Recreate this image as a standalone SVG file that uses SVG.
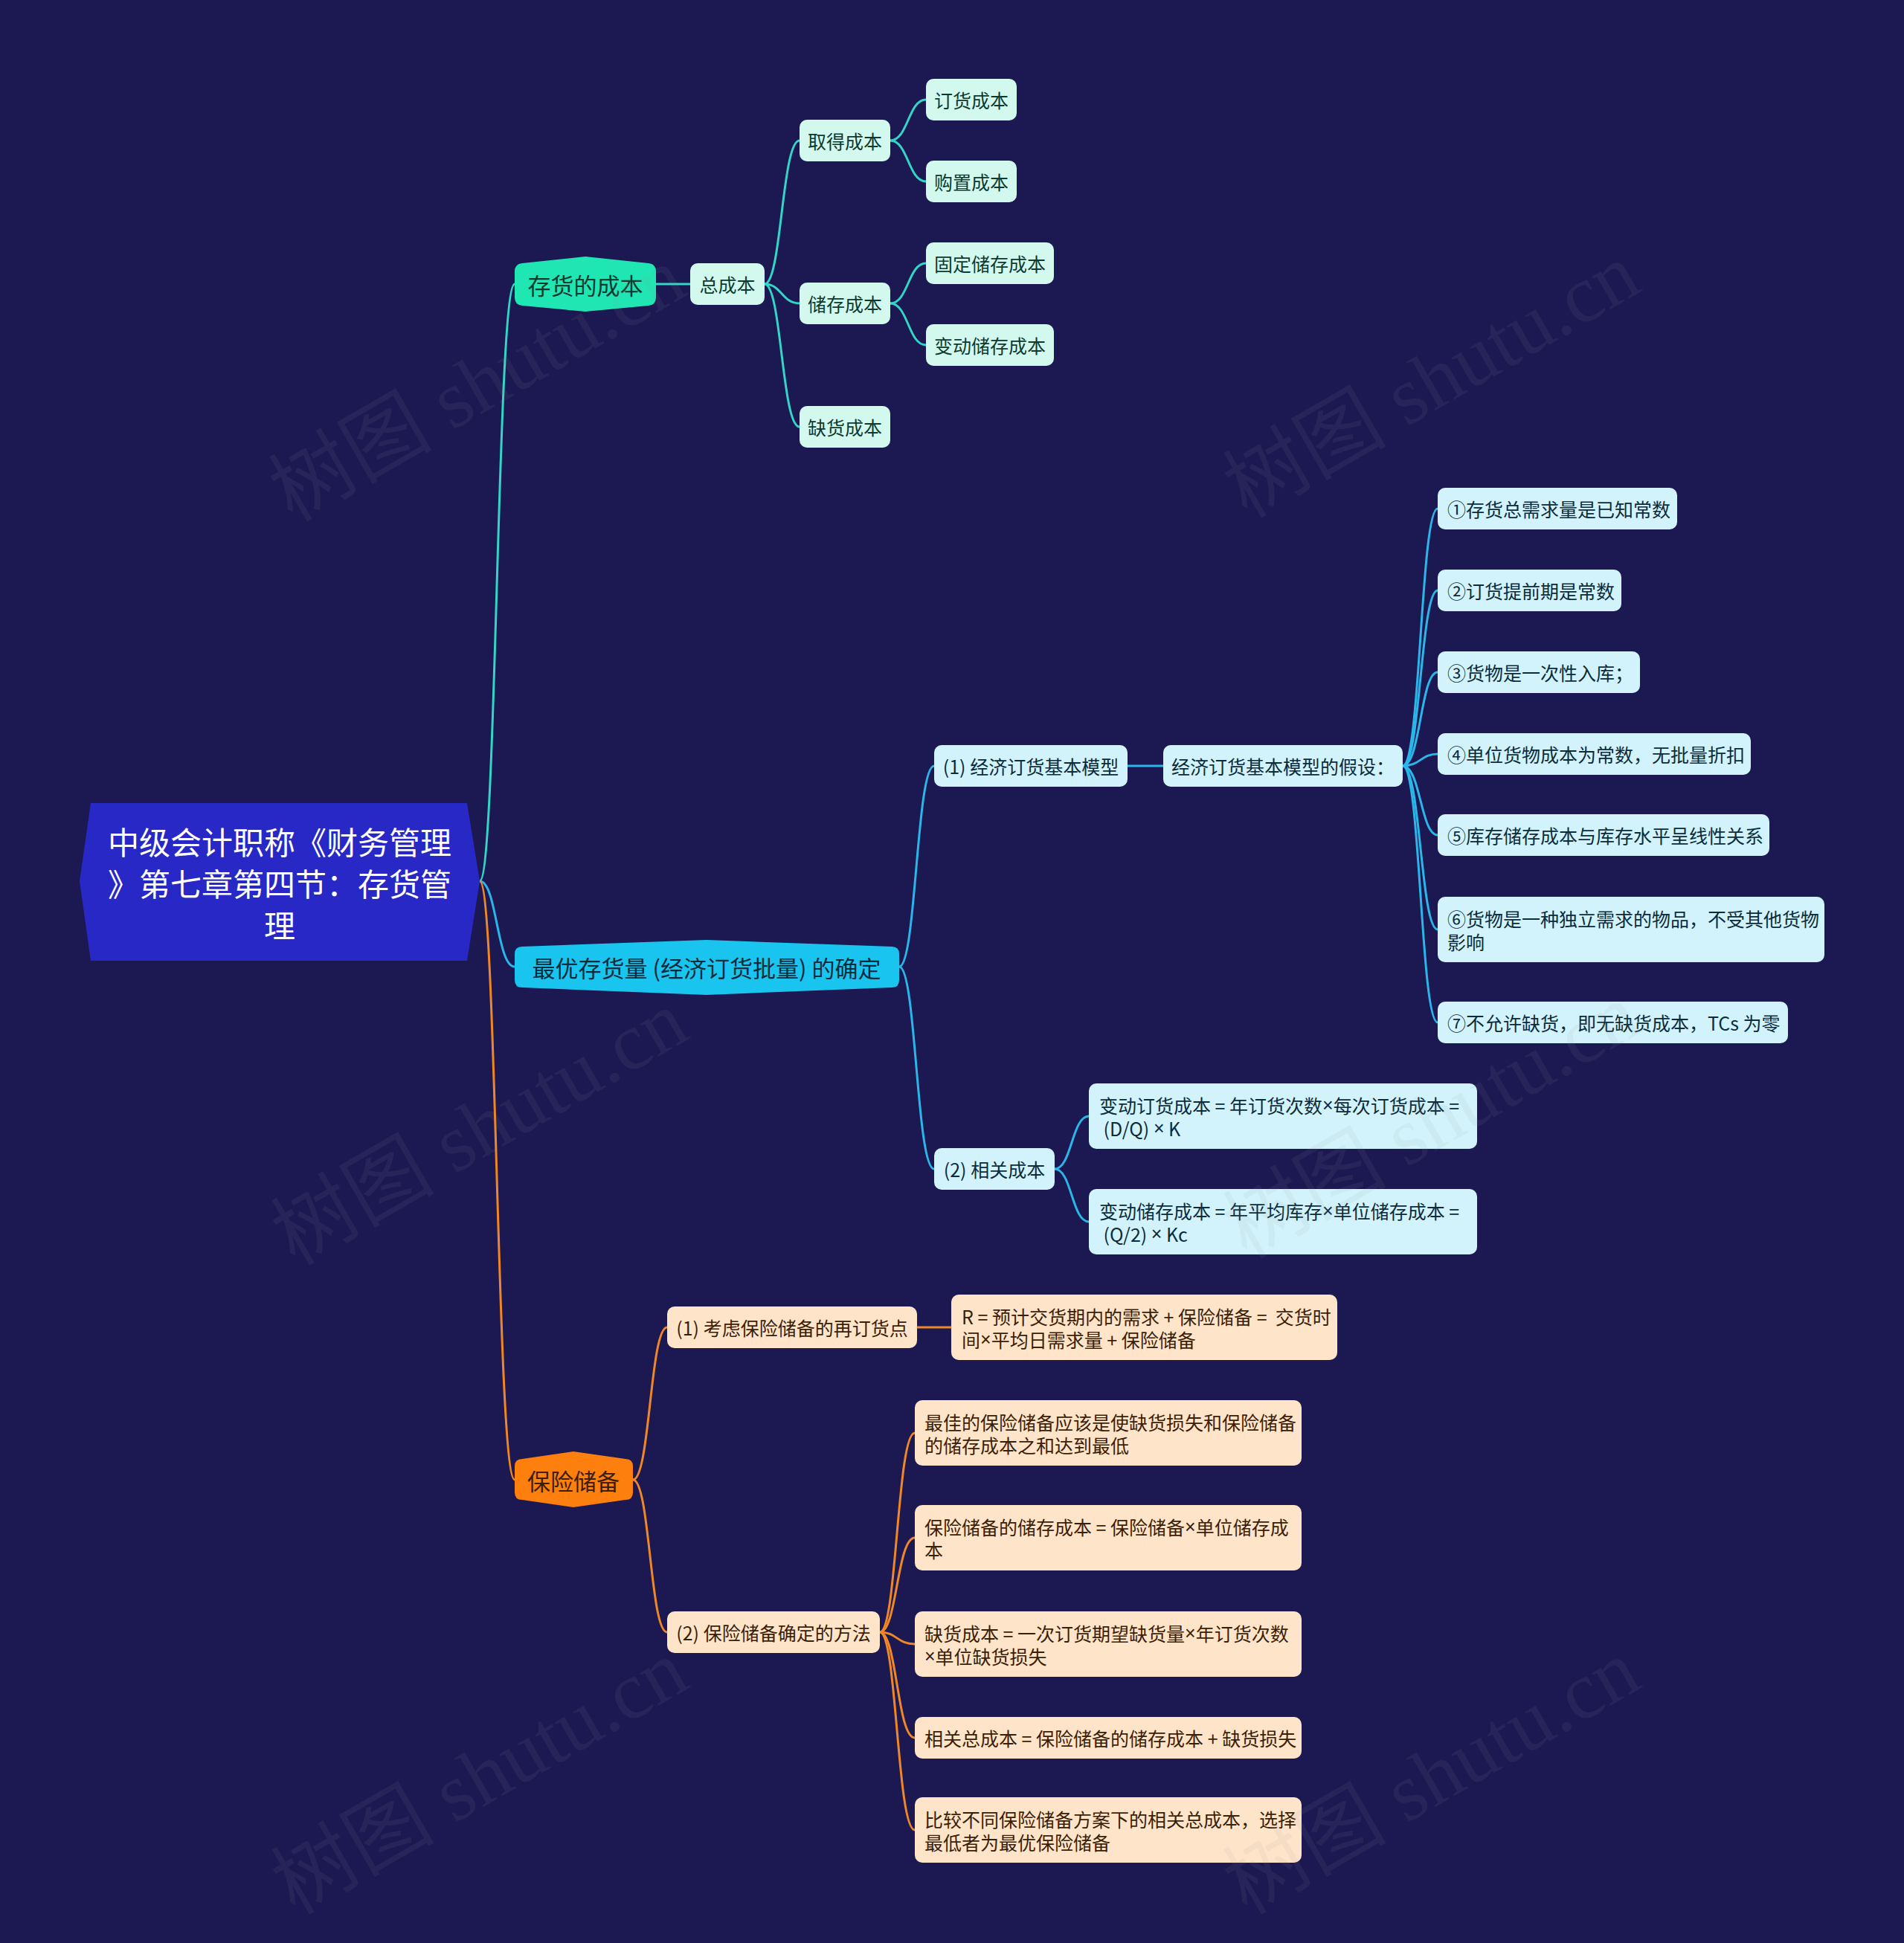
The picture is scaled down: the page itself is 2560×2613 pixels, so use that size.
<svg xmlns="http://www.w3.org/2000/svg" width="2560" height="2613" viewBox="0 0 2560 2613">
<style>
text{font-family:'Noto Sans CJK SC','Noto Sans',sans-serif;}
.t1{font-size:31px;dominant-baseline:central;text-anchor:middle;}
.t2{font-size:25px;dominant-baseline:central;text-anchor:middle;}
.tl{font-size:25px;dominant-baseline:central;text-anchor:start;}
.x{font-family:'Liberation Sans','Noto Sans',sans-serif;}
.teal{fill:#1fe6b3;}
.tealc{fill:#d3f9ef;}
.cyan{fill:#19c5ef;}
.cyanc{fill:#d2f3fb;}
.org{fill:#fd7f0d;}
.orgc{fill:#fee4c9;}
.ttx{fill:#0d3a2f;}
.ctx{fill:#0c2b3b;}
.otx{fill:#3b1e06;}
.lt{fill:none;stroke:#33d6c6;stroke-width:3;}
.lc{fill:none;stroke:#2bb6e9;stroke-width:3;}
.lo{fill:none;stroke:#f08727;stroke-width:3;}
.wm{font-family:'Liberation Serif','Noto Sans CJK SC',serif;font-size:110px;fill:#9a9a9a;opacity:0.09;text-anchor:middle;dominant-baseline:central;}
</style>
<rect x="0" y="0" width="2560" height="2613" fill="#1b1852"/>

<g id="connectors">
  <path class="lt" d="M645,1185 C668,1185 668,382 692,382"/>
  <path class="lc" d="M645,1185 C668,1185 668,1300 692,1300"/>
  <path class="lo" d="M645,1185 C668,1185 668,1990 692,1990"/>
  <path class="lt" d="M882,382 L928,382"/>
  <path class="lt" d="M1028,382 C1051,382 1051,189 1075,189"/>
  <path class="lt" d="M1028,382 C1051,382 1051,408 1075,408"/>
  <path class="lt" d="M1028,382 C1051,382 1051,574 1075,574"/>
  <path class="lt" d="M1197,189 C1221,189 1221,134 1245,134"/>
  <path class="lt" d="M1197,189 C1221,189 1221,244 1245,244"/>
  <path class="lt" d="M1197,408 C1221,408 1221,354 1245,354"/>
  <path class="lt" d="M1197,408 C1221,408 1221,464 1245,464"/>
  <path class="lc" d="M1209,1300 C1232,1300 1232,1030 1256,1030"/>
  <path class="lc" d="M1209,1300 C1232,1300 1232,1572 1256,1572"/>
  <path class="lc" d="M1516,1030 L1564,1030"/>
  <path class="lc" d="M1886,1030 C1910,1030 1910,684 1933,684"/>
  <path class="lc" d="M1886,1030 C1910,1030 1910,794 1933,794"/>
  <path class="lc" d="M1886,1030 C1910,1030 1910,904 1933,904"/>
  <path class="lc" d="M1886,1030 C1910,1030 1910,1014 1933,1014"/>
  <path class="lc" d="M1886,1030 C1910,1030 1910,1123 1933,1123"/>
  <path class="lc" d="M1886,1030 C1910,1030 1910,1250 1933,1250"/>
  <path class="lc" d="M1886,1030 C1910,1030 1910,1375 1933,1375"/>
  <path class="lc" d="M1418,1572 C1441,1572 1441,1501 1464,1501"/>
  <path class="lc" d="M1418,1572 C1441,1572 1441,1643 1464,1643"/>
  <path class="lo" d="M851,1990 C874,1990 874,1785 897,1785"/>
  <path class="lo" d="M851,1990 C874,1990 874,2195 897,2195"/>
  <path class="lo" d="M1233,1785 L1279,1785"/>
  <path class="lo" d="M1183,2195 C1206,2195 1206,1927 1230,1927"/>
  <path class="lo" d="M1183,2195 C1206,2195 1206,2068 1230,2068"/>
  <path class="lo" d="M1183,2195 C1206,2195 1206,2211 1230,2211"/>
  <path class="lo" d="M1183,2195 C1206,2195 1206,2337 1230,2337"/>
  <path class="lo" d="M1183,2195 C1206,2195 1206,2461 1230,2461"/>
</g>

<g id="root">
  <polygon points="107,1185 122,1080 628,1080 645,1185 628,1292 122,1292" fill="#2828c6"/>
  <text x="376" y="1130" font-size="42" fill="#ffffff" text-anchor="middle" dominant-baseline="central">中级会计职称《财务管理</text>
  <text x="376" y="1186" font-size="42" fill="#ffffff" text-anchor="middle" dominant-baseline="central">》第七章第四节：存货管</text>
  <text x="376" y="1242" font-size="42" fill="#ffffff" text-anchor="middle" dominant-baseline="central">理</text>
</g>

<g id="n-cost">
  <path class="teal" d="M692,365 Q692,355 702,354 L787,345 L872,354 Q882,355 882,365 L882,400 Q882,410 872,411 L787,419 L702,411 Q692,410 692,400 Z"/>
  <text class="t1 ttx" x="787" y="382">存货的成本</text>
</g>
<g id="n-total">
  <rect class="tealc" x="928" y="354" width="100" height="56" rx="10"/>
  <text class="t2 ttx" x="978" y="382">总成本</text>
</g>
<g id="n-acq">
  <rect class="tealc" x="1075" y="161" width="122" height="56" rx="10"/>
  <text class="t2 ttx" x="1136" y="189">取得成本</text>
</g>
<g id="n-order">
  <rect class="tealc" x="1245" y="106" width="122" height="56" rx="10"/>
  <text class="t2 ttx" x="1306" y="134">订货成本</text>
</g>
<g id="n-purchase">
  <rect class="tealc" x="1245" y="216" width="122" height="56" rx="10"/>
  <text class="t2 ttx" x="1306" y="244">购置成本</text>
</g>
<g id="n-store">
  <rect class="tealc" x="1075" y="380" width="122" height="56" rx="10"/>
  <text class="t2 ttx" x="1136" y="408">储存成本</text>
</g>
<g id="n-fixstore">
  <rect class="tealc" x="1245" y="326" width="172" height="56" rx="10"/>
  <text class="t2 ttx" x="1331" y="354">固定储存成本</text>
</g>
<g id="n-varstore">
  <rect class="tealc" x="1245" y="436" width="172" height="56" rx="10"/>
  <text class="t2 ttx" x="1331" y="464">变动储存成本</text>
</g>
<g id="n-short">
  <rect class="tealc" x="1075" y="546" width="122" height="56" rx="10"/>
  <text class="t2 ttx" x="1136" y="574">缺货成本</text>
</g>

<g id="n-eoq">
  <path class="cyan" d="M692,1283 Q692,1273 702,1273 L950,1264 L1199,1273 Q1209,1273 1209,1283 L1209,1318 Q1209,1328 1199,1328 L950,1338 L702,1328 Q692,1328 692,1318 Z"/>
  <text class="t1 ctx" x="950" y="1300">最优存货量 (经济订货批量) 的确定</text>
</g>
<g id="n-basic">
  <rect class="cyanc" x="1256" y="1002" width="260" height="56" rx="10"/>
  <text class="t2 ctx" x="1386" y="1030">(1) 经济订货基本模型</text>
</g>
<g id="n-assume">
  <rect class="cyanc" x="1564" y="1002" width="322" height="56" rx="10"/>
  <text class="t2 ctx" x="1725" y="1030">经济订货基本模型的假设：</text>
</g>
<g id="n-a1">
  <rect class="cyanc" x="1933" y="656" width="322" height="56" rx="10"/>
  <text class="tl ctx" x="1946" y="684">①存货总需求量是已知常数</text>
</g>
<g id="n-a2">
  <rect class="cyanc" x="1933" y="766" width="247" height="56" rx="10"/>
  <text class="tl ctx" x="1946" y="794">②订货提前期是常数</text>
</g>
<g id="n-a3">
  <rect class="cyanc" x="1933" y="876" width="272" height="56" rx="10"/>
  <text class="tl ctx" x="1946" y="904">③货物是一次性入库；</text>
</g>
<g id="n-a4">
  <rect class="cyanc" x="1933" y="986" width="421" height="56" rx="10"/>
  <text class="tl ctx" x="1946" y="1014">④单位货物成本为常数，无批量折扣</text>
</g>
<g id="n-a5">
  <rect class="cyanc" x="1933" y="1095" width="446" height="56" rx="10"/>
  <text class="tl ctx" x="1946" y="1123">⑤库存储存成本与库存水平呈线性关系</text>
</g>
<g id="n-a6">
  <rect class="cyanc" x="1933" y="1206" width="520" height="88" rx="10"/>
  <text class="tl ctx" x="1946" y="1235">⑥货物是一种独立需求的物品，不受其他货物</text>
  <text class="tl ctx" x="1946" y="1266">影响</text>
</g>
<g id="n-a7">
  <rect class="cyanc" x="1933" y="1347" width="471" height="56" rx="10"/>
  <text class="tl ctx" x="1946" y="1375">⑦不允许缺货，即无缺货成本，TCs 为零</text>
</g>
<g id="n-relcost">
  <rect class="cyanc" x="1256" y="1544" width="162" height="56" rx="10"/>
  <text class="t2 ctx" x="1337" y="1572">(2) 相关成本</text>
</g>
<g id="n-varorder">
  <rect class="cyanc" x="1464" y="1457" width="522" height="88" rx="10"/>
  <text class="tl ctx" x="1478" y="1486">变动订货成本 = 年订货次数<tspan class="x">×</tspan>每次订货成本 =</text>
  <text class="tl ctx" x="1478" y="1517" xml:space="preserve"> (D/Q) <tspan class="x">×</tspan> K</text>
</g>
<g id="n-varstore2">
  <rect class="cyanc" x="1464" y="1599" width="522" height="88" rx="10"/>
  <text class="tl ctx" x="1478" y="1628">变动储存成本 = 年平均库存<tspan class="x">×</tspan>单位储存成本 =</text>
  <text class="tl ctx" x="1478" y="1659" xml:space="preserve"> (Q/2) <tspan class="x">×</tspan> Kc</text>
</g>

<g id="n-safety">
  <path class="org" d="M692,1972 Q692,1962 702,1962 L771,1952 L841,1962 Q851,1962 851,1972 L851,2007 Q851,2017 841,2017 L771,2027 L702,2017 Q692,2017 692,2007 Z"/>
  <text class="t1 otx" x="771" y="1990">保险储备</text>
</g>
<g id="n-reorder">
  <rect class="orgc" x="897" y="1757" width="336" height="56" rx="10"/>
  <text class="t2 otx" x="1065" y="1785">(1) 考虑保险储备的再订货点</text>
</g>
<g id="n-r">
  <rect class="orgc" x="1279" y="1741" width="519" height="88" rx="10"/>
  <text class="tl otx" x="1293" y="1770" xml:space="preserve">R = 预计交货期内的需求 + 保险储备 =  交货时</text>
  <text class="tl otx" x="1293" y="1801">间<tspan class="x">×</tspan>平均日需求量 + 保险储备</text>
</g>
<g id="n-method">
  <rect class="orgc" x="897" y="2167" width="286" height="56" rx="10"/>
  <text class="t2 otx" x="1040" y="2195">(2) 保险储备确定的方法</text>
</g>
<g id="n-m1">
  <rect class="orgc" x="1230" y="1883" width="520" height="88" rx="10"/>
  <text class="tl otx" x="1243" y="1912">最佳的保险储备应该是使缺货损失和保险储备</text>
  <text class="tl otx" x="1243" y="1943">的储存成本之和达到最低</text>
</g>
<g id="n-m2">
  <rect class="orgc" x="1230" y="2024" width="520" height="88" rx="10"/>
  <text class="tl otx" x="1243" y="2053">保险储备的储存成本 = 保险储备<tspan class="x">×</tspan>单位储存成</text>
  <text class="tl otx" x="1243" y="2084">本</text>
</g>
<g id="n-m3">
  <rect class="orgc" x="1230" y="2167" width="520" height="88" rx="10"/>
  <text class="tl otx" x="1243" y="2196">缺货成本 = 一次订货期望缺货量<tspan class="x">×</tspan>年订货次数</text>
  <text class="tl otx" x="1243" y="2227"><tspan class="x">×</tspan>单位缺货损失</text>
</g>
<g id="n-m4">
  <rect class="orgc" x="1230" y="2309" width="520" height="56" rx="10"/>
  <text class="tl otx" x="1243" y="2337">相关总成本 = 保险储备的储存成本 + 缺货损失</text>
</g>
<g id="n-m5">
  <rect class="orgc" x="1230" y="2417" width="520" height="88" rx="10"/>
  <text class="tl otx" x="1243" y="2446">比较不同保险储备方案下的相关总成本，选择</text>
  <text class="tl otx" x="1243" y="2477">最低者为最优保险储备</text>
</g>

<g id="watermarks">
  <text class="wm" transform="translate(642,517) rotate(-30)">树图 shutu.cn</text>
  <text class="wm" transform="translate(1925,512) rotate(-30)">树图 shutu.cn</text>
  <text class="wm" transform="translate(645,1517) rotate(-30)">树图 shutu.cn</text>
  <text class="wm" transform="translate(1925,1508) rotate(-30)">树图 shutu.cn</text>
  <text class="wm" transform="translate(645,2390) rotate(-30)">树图 shutu.cn</text>
  <text class="wm" transform="translate(1925,2390) rotate(-30)">树图 shutu.cn</text>
</g>
</svg>
